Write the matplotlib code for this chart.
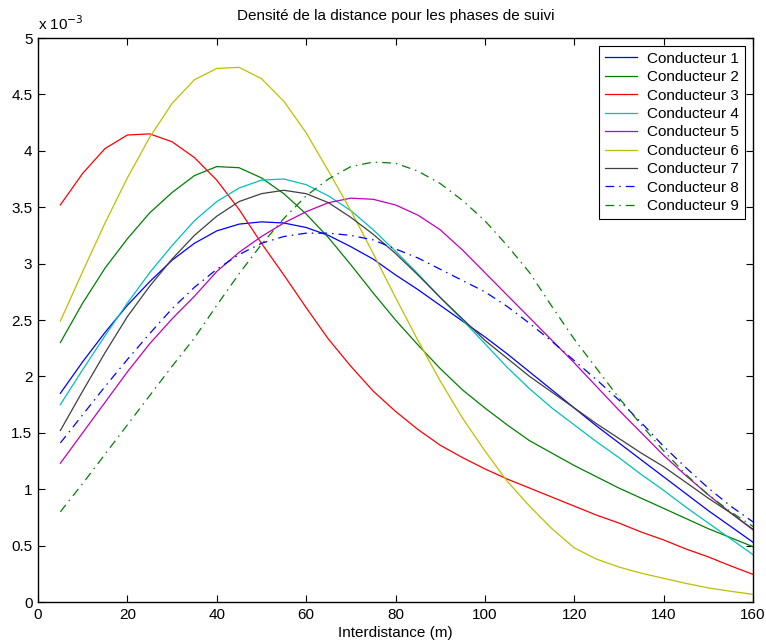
import numpy as np
import matplotlib
matplotlib.use("Agg")
import matplotlib.pyplot as plt

plt.rcParams['font.family'] = ['Liberation Sans', 'DejaVu Sans']

x = [5, 10, 15, 20, 25, 30, 35, 40, 45, 50, 55, 60, 65, 70, 75, 80,
     85, 90, 95, 100, 105, 110, 115, 120, 125, 130, 135, 140, 145, 150, 155, 160]

# values in units of 1e-3
c1 = [1.85, 2.13, 2.39, 2.63, 2.84, 3.03, 3.18, 3.29, 3.35, 3.37, 3.36, 3.32, 3.25, 3.15, 3.04, 2.90,
      2.77, 2.63, 2.49, 2.35, 2.20, 2.04, 1.88, 1.72, 1.56, 1.41, 1.26, 1.11, 0.96, 0.81, 0.67, 0.53]
c2 = [2.30, 2.65, 2.96, 3.22, 3.45, 3.63, 3.78, 3.86, 3.85, 3.76, 3.62, 3.44, 3.23, 2.99, 2.74, 2.50,
      2.28, 2.07, 1.88, 1.72, 1.57, 1.43, 1.32, 1.21, 1.11, 1.01, 0.92, 0.83, 0.74, 0.65, 0.57, 0.49]
c3 = [3.52, 3.80, 4.02, 4.14, 4.15, 4.08, 3.94, 3.74, 3.48, 3.18, 2.90, 2.61, 2.33, 2.09, 1.87, 1.69,
      1.53, 1.39, 1.28, 1.18, 1.09, 1.01, 0.93, 0.85, 0.77, 0.70, 0.62, 0.55, 0.47, 0.40, 0.32, 0.245]
c4 = [1.75, 2.06, 2.36, 2.65, 2.92, 3.16, 3.38, 3.55, 3.67, 3.74, 3.75, 3.70, 3.60, 3.47, 3.30, 3.11,
      2.91, 2.70, 2.50, 2.29, 2.08, 1.89, 1.72, 1.57, 1.42, 1.28, 1.13, 0.99, 0.84, 0.70, 0.56, 0.42]
c5 = [1.23, 1.50, 1.77, 2.04, 2.29, 2.51, 2.71, 2.93, 3.10, 3.24, 3.36, 3.46, 3.54, 3.58, 3.57, 3.52,
      3.43, 3.30, 3.12, 2.92, 2.72, 2.52, 2.32, 2.12, 1.91, 1.70, 1.50, 1.30, 1.12, 0.95, 0.79, 0.64]
c6 = [2.49, 2.93, 3.36, 3.76, 4.12, 4.42, 4.63, 4.73, 4.74, 4.64, 4.44, 4.16, 3.82, 3.47, 3.09, 2.70,
      2.32, 1.96, 1.63, 1.34, 1.07, 0.85, 0.65, 0.48, 0.38, 0.31, 0.255, 0.21, 0.165, 0.125, 0.095, 0.068]
c7 = [1.52, 1.87, 2.21, 2.53, 2.80, 3.04, 3.25, 3.42, 3.55, 3.62, 3.65, 3.62, 3.54, 3.41, 3.26, 3.09,
      2.90, 2.70, 2.51, 2.32, 2.16, 2.00, 1.86, 1.72, 1.58, 1.45, 1.32, 1.20, 1.06, 0.92, 0.79, 0.645]
c8 = [1.41, 1.66, 1.91, 2.15, 2.38, 2.60, 2.79, 2.95, 3.08, 3.18, 3.24, 3.27, 3.27, 3.25, 3.21, 3.13,
      3.05, 2.95, 2.85, 2.75, 2.62, 2.47, 2.31, 2.14, 1.97, 1.79, 1.59, 1.38, 1.19, 1.01, 0.85, 0.71]
c9 = [0.80, 1.05, 1.31, 1.57, 1.83, 2.09, 2.34, 2.63, 2.91, 3.17, 3.40, 3.60, 3.75, 3.86, 3.90, 3.89,
      3.82, 3.71, 3.56, 3.38, 3.16, 2.92, 2.62, 2.33, 2.07, 1.81, 1.57, 1.34, 1.13, 0.95, 0.80, 0.67]

labels = ['Conducteur %d' % i for i in range(1, 10)]
series = [c1, c2, c3, c4, c5, c6, c7, c8, c9]
colors = ['#0000ff', '#008000', '#ff0000', '#00bfbf', '#bf00bf', '#bfbf00', '#404040', '#0000ff', '#008000']
styles = ['-', '-', '-', '-', '-', '-', '-', '-.', '-.']

yticks = [0, 0.5, 1, 1.5, 2, 2.5, 3, 3.5, 4, 4.5, 5]
ytick_labels = ['0', '0.5', '1', '1.5', '2', '2.5', '3', '3.5', '4', '4.5', '5']
xticks = [0, 20, 40, 60, 80, 100, 120, 140, 160]

fig = plt.figure(figsize=(7.66, 6.43), dpi=100)
ax = fig.add_axes([38/766, 1 - 602/643, (753-38)/766, (602-38)/643])

xa = np.array(x)
for s, c, ls, lab in zip(series, colors, styles, labels):
    line, = ax.plot(xa, np.array(s) * 1e-3, color=c, linestyle=ls, linewidth=0.9, label=lab)
    if ls == '-.':
        line.set_dashes([7, 4, 1.2, 4])

ax.set_xlim(0, 160)
ax.set_ylim(0, 5e-3)
ax.set_xticks(xticks)
ax.set_xticklabels([str(v) for v in xticks])
ax.set_yticks([v * 1e-3 for v in yticks])
ax.set_yticklabels(ytick_labels)
ax.tick_params(direction='in', top=True, right=True, labelsize=11, length=5, width=0.8, pad=4)
for sp in ax.spines.values():
    sp.set_linewidth(1.0)

ax.text(0.0, 1.008, r'x 10$^{-3}$', transform=ax.transAxes, fontsize=11, ha='left', va='bottom')
ax.set_title('Densité de la distance pour les phases de suivi', fontsize=11, pad=13)
ax.set_xlabel('Interdistance (m)', fontsize=11, labelpad=3)

leg = ax.legend(loc='upper right', fontsize=11, frameon=True, fancybox=False,
                edgecolor='black', framealpha=1, handlelength=2.1, labelspacing=0.29,
                borderaxespad=0.55, borderpad=0.35, handletextpad=0.7)
leg.get_frame().set_linewidth(0.8)

fig.savefig('out.png', dpi=100)
